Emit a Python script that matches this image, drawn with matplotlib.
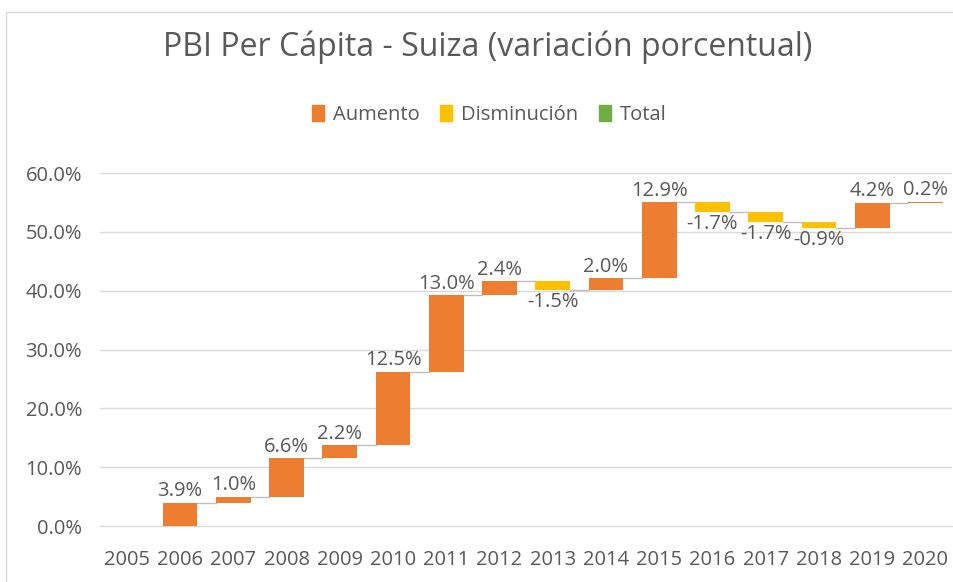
import matplotlib.pyplot as plt
from matplotlib.patches import Rectangle

# Datos (variación porcentual anual del PBI per cápita)
anios = ['2005', '2006', '2007', '2008', '2009', '2010', '2011', '2012',
         '2013', '2014', '2015', '2016', '2017', '2018', '2019', '2020']
variacion = [0.0, 3.9, 1.0, 6.6, 2.2, 12.5, 13.0, 2.4,
             -1.5, 2.0, 12.9, -1.7, -1.7, -0.9, 4.2, 0.2]
y_ticks = [0, 10, 20, 30, 40, 50, 60]

c_aum = '#ED7D31'
c_dis = '#FFC000'
c_tot = '#70AD47'
c_txt = '#595959'

plt.rcParams['font.family'] = ['Open Sans', 'DejaVu Sans']

fig = plt.figure(figsize=(9.54, 5.82), dpi=100)
ax = fig.add_axes([0.105, 0.0962, 0.893, 0.6065])

# waterfall: base acumulada
ancho = 0.65
acum = 0.0
finales = []
for i, v in enumerate(variacion):
    inicio = acum
    acum = acum + v
    finales.append(acum)
    if v == 0 and i == 0:
        continue
    color = c_aum if v >= 0 else c_dis
    ax.bar(i, v, bottom=inicio, width=ancho, color=color, zorder=3)
    if v >= 0:
        ax.text(i, acum + 0.3, f'{v:.1f}%', ha='center', va='bottom',
                fontsize=14.5, color=c_txt, zorder=4)
    else:
        ax.text(i, acum - 0.3, f'{v:.1f}%', ha='center', va='top',
                fontsize=14.5, color=c_txt, zorder=4)

# lineas conectoras
for i in range(1, len(variacion) - 1):
    ax.plot([i + ancho / 2, i + 1 - ancho / 2], [finales[i], finales[i]],
            color='#BFBFBF', lw=1, zorder=2)

ax.set_xlim(-0.5, len(anios) - 0.5)
ax.set_ylim(0, 60)
ax.set_xticks(range(len(anios)))
ax.set_xticklabels(anios)
ax.set_yticks(y_ticks)
ax.set_yticklabels([f'{t:.1f}%' for t in y_ticks])
ax.tick_params(axis='both', length=0, labelsize=14.5, labelcolor=c_txt)
ax.tick_params(axis='x', pad=17)
ax.tick_params(axis='y', pad=13)
ax.grid(axis='y', color='#D9D9D9', lw=1, zorder=0)
for s in ['top', 'right', 'left']:
    ax.spines[s].set_visible(False)
ax.spines['bottom'].set_color('#D9D9D9')

fig.text(0.511, 0.918, 'PBI Per Cápita - Suiza (variación porcentual)',
         ha='center', va='center', fontsize=23, color=c_txt)

# leyenda
handles = [Rectangle((0, 0), 1, 1, color=c) for c in (c_aum, c_dis, c_tot)]
fig.legend(handles, ['Aumento', 'Disminución', 'Total'], loc='center',
           bbox_to_anchor=(0.513, 0.803), ncol=3, frameon=False,
           fontsize=14.5, labelcolor=c_txt, handlelength=0.6,
           handleheight=0.9, handletextpad=0.45, columnspacing=1.0)

# borde del área del gráfico
fig.patches.append(Rectangle((0.006, -0.01), 1.0, 0.99, transform=fig.transFigure,
                             fill=False, edgecolor='#D9D9D9', lw=1))

fig.savefig('out.png', dpi=100, facecolor='white')
